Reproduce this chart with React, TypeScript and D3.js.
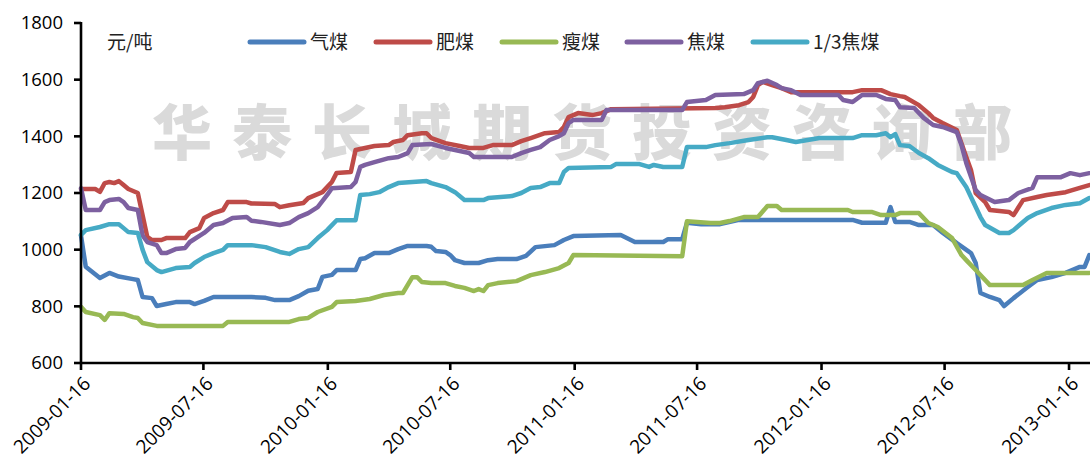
import React from "react";
import * as d3 from "d3";

const START_DATE = "2009-01-16";
const END_DATE = "2013-02-16";
const X_TICKS = ["2009-01-16", "2009-07-16", "2010-01-16", "2010-07-16", "2011-01-16", "2011-07-16", "2012-01-16", "2012-07-16", "2013-01-16"];
const Y_TICKS = [600, 800, 1000, 1200, 1400, 1600, 1800];
const UNIT = "元/吨";
const WATERMARK = "华泰长城期货投资咨询部";

// [weeks since START_DATE, 元/吨]
const qiMei: [number, number][] = [[0,1050],[1,940],[4,900],[6,918],[8,905],[11,896],[12,893],[13,833],[15,829],[16,801],[18,808],[20,815],[23,815],[24,808],[26,819],[28,833],[36,833],[39,830],[41,822],[44,822],[46,836],[48,855],[50,861],[51,904],[53,911],[54,928],[58,928],[59,967],[60,970],[62,988],[65,988],[67,1002],[69,1013],[73,1013],[74,1010],[75,995],[77,992],[78,981],[79,963],[81,953],[84,953],[86,963],[88,967],[92,967],[94,978],[96,1009],[100,1016],[102,1034],[104,1048],[114,1052],[117,1027],[123,1027],[124,1037],[127,1037],[128,1095],[131,1090],[135,1090],[139,1105],[163,1105],[165,1095],[170,1095],[171,1150],[172,1098],[175,1098],[177,1087],[180,1087],[182,1060],[185,1023],[188,988],[189,953],[190,847],[192,833],[194,822],[195,801],[197,829],[200,868],[202,893],[205,903],[208,918],[211,939],[212,939],[213,981]];
const feiMei: [number, number][] = [[0,1214],[3,1214],[4,1204],[5,1235],[6,1239],[7,1235],[8,1242],[9,1228],[10,1214],[12,1200],[14,1045],[15,1034],[17,1034],[18,1041],[22,1041],[23,1062],[25,1076],[26,1112],[28,1129],[30,1140],[31,1168],[35,1168],[36,1163],[41,1161],[42,1150],[44,1157],[47,1165],[48,1182],[51,1203],[53,1239],[54,1271],[57,1274],[58,1352],[60,1359],[62,1366],[65,1369],[66,1380],[68,1387],[69,1404],[72,1411],[73,1411],[74,1394],[77,1376],[80,1366],[82,1359],[85,1359],[87,1369],[91,1369],[93,1383],[95,1394],[98,1411],[101,1415],[102,1433],[103,1468],[105,1482],[108,1475],[110,1482],[112,1496],[134,1500],[136,1503],[139,1510],[141,1521],[142,1539],[143,1581],[144,1592],[146,1581],[148,1570],[150,1556],[163,1556],[165,1563],[169,1563],[171,1549],[173,1542],[174,1539],[177,1510],[179,1482],[180,1465],[182,1447],[185,1422],[187,1327],[188,1281],[189,1200],[191,1168],[192,1140],[196,1133],[197,1122],[199,1175],[202,1186],[204,1193],[208,1203],[211,1218],[213,1228]];
const shouMei: [number, number][] = [[0,798],[1,780],[4,769],[5,752],[6,776],[9,773],[11,762],[12,759],[13,741],[16,731],[30,731],[31,745],[44,745],[46,755],[48,759],[50,780],[53,798],[54,815],[58,819],[61,826],[64,840],[67,847],[68,847],[70,903],[71,903],[72,886],[74,882],[77,882],[79,872],[81,865],[83,854],[84,861],[85,854],[86,875],[88,882],[92,889],[95,910],[98,921],[101,935],[103,953],[104,981],[127,977],[128,1100],[133,1094],[135,1094],[137,1101],[140,1115],[143,1115],[145,1154],[147,1154],[148,1140],[162,1140],[163,1133],[167,1133],[169,1122],[172,1122],[173,1129],[177,1129],[179,1094],[181,1080],[184,1041],[186,981],[187,963],[189,928],[192,875],[199,875],[201,893],[204,918],[213,918]];
const jiaoMei: [number, number][] = [[0,1217],[1,1140],[4,1140],[5,1168],[6,1175],[8,1179],[9,1168],[10,1147],[12,1140],[13,1050],[14,1027],[16,1016],[17,988],[18,988],[20,1002],[22,1006],[23,1027],[26,1059],[28,1087],[30,1094],[32,1112],[35,1115],[36,1102],[38,1098],[42,1087],[44,1094],[46,1115],[48,1129],[50,1150],[52,1193],[53,1217],[57,1221],[58,1239],[59,1292],[60,1299],[62,1309],[65,1323],[67,1327],[69,1341],[70,1369],[74,1373],[77,1359],[79,1352],[82,1341],[83,1327],[91,1327],[93,1341],[95,1352],[97,1362],[99,1387],[101,1401],[102,1411],[103,1447],[104,1458],[110,1458],[111,1493],[127,1493],[128,1521],[132,1528],[134,1546],[140,1549],[142,1563],[143,1588],[145,1596],[147,1581],[148,1570],[150,1563],[152,1546],[160,1546],[161,1528],[163,1521],[165,1546],[168,1546],[170,1532],[172,1528],[173,1503],[176,1500],[178,1465],[180,1440],[182,1433],[185,1415],[186,1369],[187,1306],[189,1210],[190,1193],[193,1168],[196,1175],[198,1200],[201,1218],[202,1256],[207,1256],[209,1270],[211,1263],[213,1270]];
const sanJiaoMei: [number, number][] = [[0,1052],[1,1069],[4,1080],[6,1090],[8,1090],[9,1076],[10,1062],[12,1059],[13,1000],[14,956],[16,928],[17,921],[20,935],[23,939],[24,953],[26,974],[28,988],[30,999],[31,1016],[36,1016],[39,1009],[42,992],[44,985],[46,1002],[48,1009],[50,1041],[52,1069],[54,1104],[58,1104],[59,1193],[61,1196],[63,1203],[65,1221],[67,1235],[70,1239],[73,1242],[74,1235],[77,1221],[79,1203],[81,1175],[85,1175],[86,1182],[91,1189],[93,1200],[95,1218],[97,1221],[99,1235],[101,1235],[102,1274],[103,1288],[112,1292],[113,1302],[118,1302],[120,1292],[121,1299],[123,1292],[127,1292],[128,1362],[132,1362],[134,1369],[137,1376],[141,1387],[145,1397],[146,1397],[149,1387],[151,1380],[156,1394],[163,1394],[165,1404],[168,1404],[170,1411],[171,1397],[172,1408],[173,1369],[175,1366],[177,1341],[179,1323],[181,1299],[184,1274],[185,1270],[187,1221],[188,1186],[190,1115],[191,1087],[194,1059],[196,1059],[197,1069],[200,1112],[202,1129],[205,1147],[208,1158],[211,1164],[213,1182]];

const SERIES_NAMES = ["气煤", "肥煤", "瘦煤", "焦煤", "1/3焦煤"];
const SERIES_DATA = [qiMei, feiMei, shouMei, jiaoMei, sanJiaoMei];
const COLORS = ["#4A7EBB", "#BE4B48", "#98B954", "#7D60A0", "#46AAC5"];

const W = 1090, H = 460;
const M = { left: 81, right: 1090, top: 23, bottom: 363 };

export default function App() {
  const parse = d3.utcParse("%Y-%m-%d");
  const start = parse(START_DATE)!;
  const x = d3.scaleUtc().domain([start, parse(END_DATE)!]).range([M.left, M.right]);
  const y = d3.scaleLinear().domain([600, 1800]).range([M.bottom, M.top]);
  const line = d3.line<[number, number]>()
    .x((d) => x(d3.utcDay.offset(start, Math.round(d[0] * 7))))
    .y((d) => y(d[1]));

  const numFont = "'Open Sans', 'DejaVu Sans', sans-serif";
  const cjkFont = "'Noto Sans CJK SC', sans-serif";
  const legendX = [250, 376, 502, 627, 753];

  return (
    <svg width={W} height={H} style={{ position: "absolute", left: 0, top: 0, background: "#fff" }}>
      <text x={592} y={155} textAnchor="middle" fontFamily={cjkFont} fontWeight={900} fontSize={60} letterSpacing={20} fill="#dadada">{WATERMARK}</text>
      {SERIES_DATA.map((s, i) => (
        <path key={i} d={line(s) || ""} fill="none" stroke={COLORS[i]} strokeWidth={4.5} strokeLinejoin="round" strokeLinecap="round" />
      ))}
      {/* axes */}
      <line x1={M.left} x2={M.left} y1={M.top - 1} y2={M.bottom + 1} stroke="#000" strokeWidth={2.6} />
      <line x1={M.left - 1} x2={M.right} y1={M.bottom} y2={M.bottom} stroke="#000" strokeWidth={2.6} />
      {Y_TICKS.map((t) => (
        <g key={t}>
          <line x1={M.left - 7} x2={M.left} y1={y(t)} y2={y(t)} stroke="#000" strokeWidth={2.6} />
          <text x={63} y={y(t)} dy="0.35em" textAnchor="end" fontFamily={numFont} fontSize={18.5} fill="#000">{t}</text>
        </g>
      ))}
      {X_TICKS.map((t) => {
        const xx = x(parse(t)!);
        return (
          <g key={t}>
            <line x1={xx} x2={xx} y1={M.bottom} y2={M.bottom + 7} stroke="#000" strokeWidth={2.6} />
            <text transform={`translate(${xx + 6},${M.bottom + 17}) rotate(-45)`} textAnchor="end" dy="0.35em" fontFamily={numFont} fontSize={19} fill="#000">{t}</text>
          </g>
        );
      })}
      {/* legend */}
      <text x={107} y={42} dy="0.35em" fontFamily={cjkFont} fontSize={19} fill="#222">{UNIT}</text>
      {SERIES_NAMES.map((n, i) => (
        <g key={n}>
          <line x1={legendX[i]} x2={legendX[i] + 54} y1={42} y2={42} stroke={COLORS[i]} strokeWidth={5} strokeLinecap="round" />
          <text x={legendX[i] + 60} y={42} dy="0.35em" fontFamily={cjkFont} fontSize={19} fill="#222">{n}</text>
        </g>
      ))}
    </svg>
  );
}
